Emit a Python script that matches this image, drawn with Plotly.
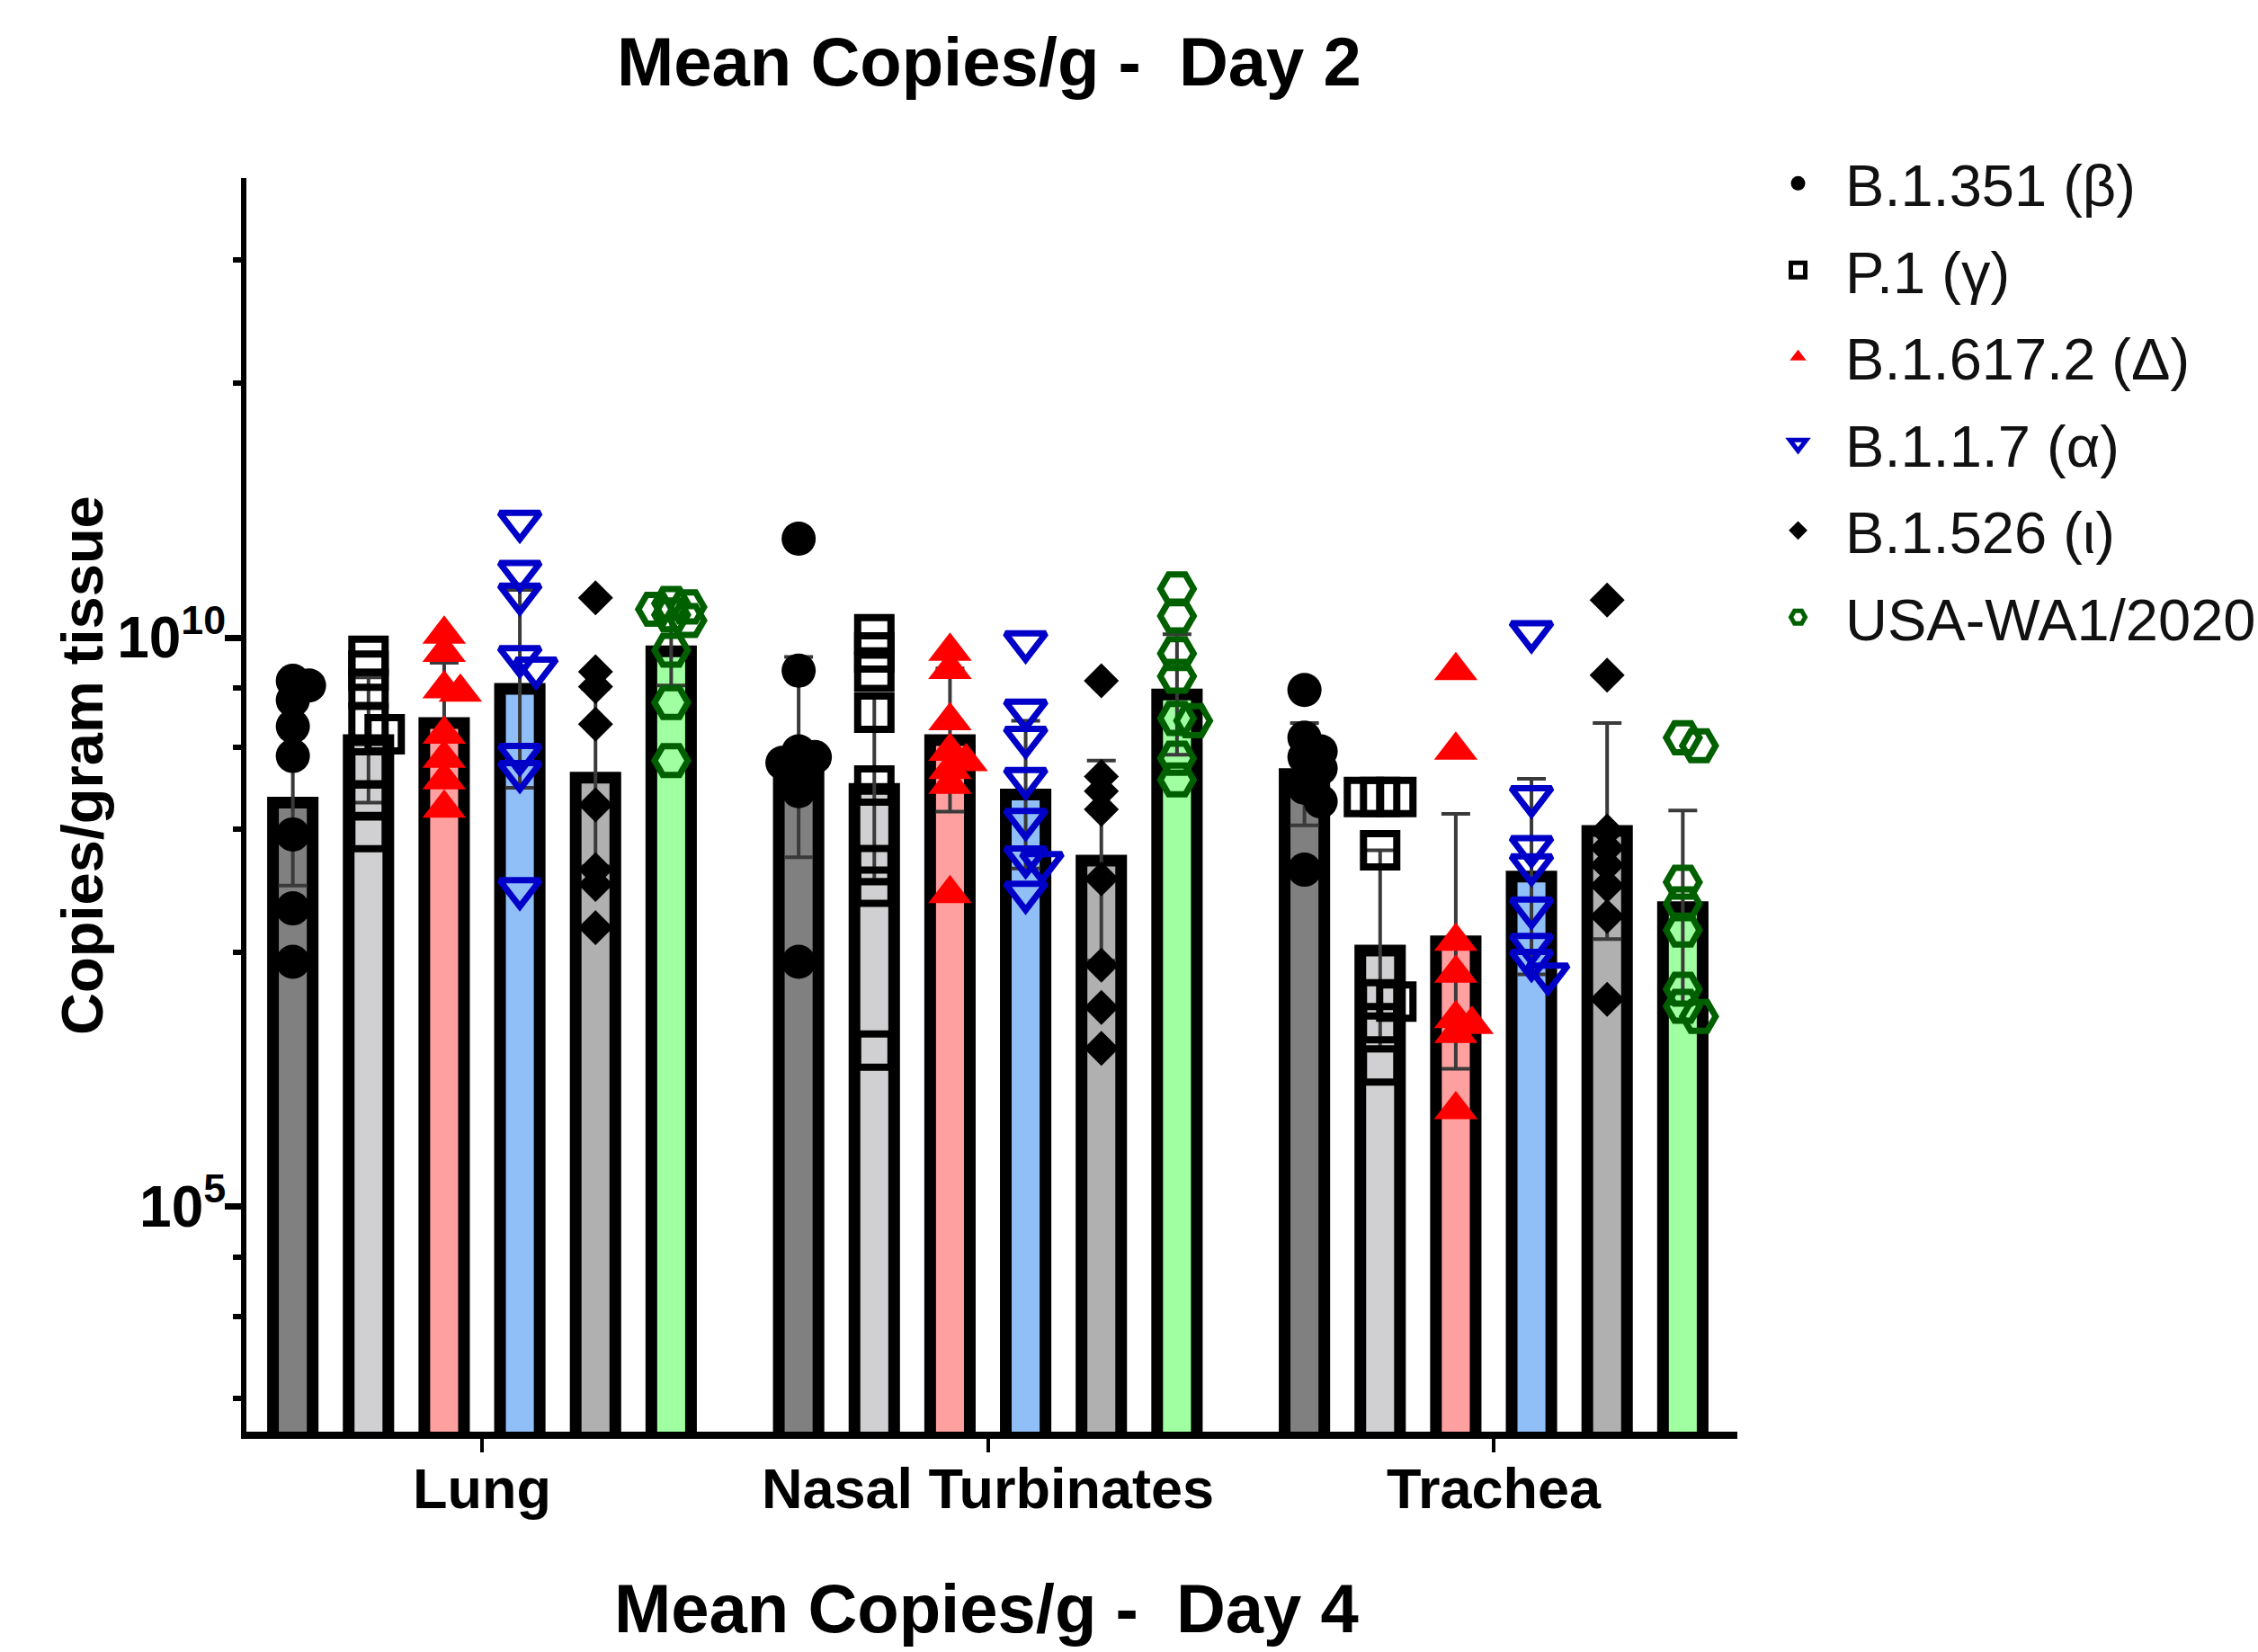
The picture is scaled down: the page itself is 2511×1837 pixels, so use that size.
import plotly.graph_objects as go

# ---------------- data (log10 copies/g) ----------------
tissues = ["Lung", "Nasal Turbinates", "Trachea"]
variants = ["B.1.351 (β)", "P.1 (γ)", "B.1.617.2 (Δ)", "B.1.1.7 (α)", "B.1.526 (ι)", "USA-WA1/2020"]

# bar heights (mean, log10) per tissue: Lung, Nasal Turbinates, Trachea
beta_mean = [8.55, 8.95, 8.80]
gamma_mean = [9.10, 8.67, 7.25]
delta_mean = [9.25, 9.10, 7.33]
alpha_mean = [9.55, 8.62, 7.90]
iota_mean = [8.77, 8.04, 8.30]
wa1_mean = [9.88, 9.50, 7.63]

# SD (log10 units)
beta_sd = [0.73, 0.88, 0.45]
gamma_sd = [0.55, 0.80, 0.88]
delta_sd = [0.53, 0.63, 1.12]
alpha_sd = [0.87, 0.65, 0.86]
iota_sd = [0.78, 0.88, 0.95]
wa1_sd = [0.30, 0.53, 0.85]

# individual animals (log10) per tissue
beta_pts = [
    [9.62, 9.58, 9.45, 9.22, 8.96, 8.27, 7.62, 7.15],
    [10.87, 9.71, 9.00, 8.95, 8.90, 8.80, 8.65, 7.15],
    [9.54, 9.12, 9.00, 8.95, 8.85, 8.68, 8.56, 7.96],
]
gamma_pts = [
    [9.84, 9.71, 9.55, 9.25, 9.15, 8.85, 8.57, 8.29],
    [10.03, 9.87, 9.70, 9.34, 8.70, 8.00, 7.81, 6.37],
    [8.60, 8.60, 8.60, 8.13, 6.82, 6.80, 6.61, 6.24],
]
delta_pts = [
    [10.03, 9.87, 9.55, 9.52, 9.15, 8.94, 8.75, 8.50],
    [9.88, 9.72, 9.27, 9.00, 8.91, 8.84, 8.71, 7.75],
    [9.71, 9.01, 7.33, 7.05, 6.65, 6.60, 6.52, 5.85],
]
alpha_pts = [
    [11.02, 10.58, 10.38, 9.83, 9.73, 8.97, 8.82, 7.79],
    [9.96, 9.36, 9.12, 8.76, 8.40, 8.07, 8.02, 7.76],
    [10.05, 8.60, 8.16, 8.00, 7.62, 7.30, 7.16, 7.04],
]
iota_pts = [
    [10.35, 9.70, 9.57, 9.24, 8.53, 7.96, 7.83, 7.45],
    [9.62, 8.78, 8.65, 8.49, 7.88, 7.12, 6.75, 6.39],
    [10.33, 9.67, 8.30, 8.15, 8.00, 7.82, 7.55, 6.82],
]
wa1_pts = [
    [10.30, 10.27, 10.25, 10.20, 10.15, 9.89, 9.43, 8.92],
    [10.43, 10.19, 9.86, 9.66, 9.29, 9.27, 8.94, 8.75],
    [9.12, 9.05, 7.85, 7.66, 7.43, 6.91, 6.76, 6.67],
]

major_tick_exps = [5, 10]
minor_tick_exps = [3.31, 4.035, 4.555, 7.235, 8.32, 9.035, 9.56, 12.235, 13.32]

# ---------------- styling ----------------
bar_colors = ["#808080", "#d0d0d2", "#ffa0a0", "#90bff8", "#b0b0b0", "#a0ffa0"]
mk_symbols = ["circle", "square-open", "triangle-up", "triangle-down-open", "diamond", "hexagon2-open"]
mk_colors = ["#000000", "#000000", "#ff0000", "#0000c8", "#000000", "#006000"]
mk_sizes = [38, 37, 42, 39, 30, 37]
mk_lw = [0, 8, 0, 7, 0, 7]

means = [beta_mean, gamma_mean, delta_mean, alpha_mean, iota_mean, wa1_mean]
sds = [beta_sd, gamma_sd, delta_sd, alpha_sd, iota_sd, wa1_sd]
pts = [beta_pts, gamma_pts, delta_pts, alpha_pts, iota_pts, wa1_pts]

W, H = 2511, 1837
L, R, T, B = 274, 579, 198, 245
X_RANGE = [-0.4658, 2.4818]
Y_RANGE = [3.02, 14.04]
BARGAP = 0.1024
BARGROUPGAP = 0.476
FONT = "Liberation Sans"

px_per_x = (W - L - R) / (X_RANGE[1] - X_RANGE[0])
px_per_dec = (H - T - B) / (Y_RANGE[1] - Y_RANGE[0])
n_var = len(variants)
slot = (1 - BARGAP) / n_var


def swarm_columns(vals, step_px=18, sep_px=16):
    """Deterministic small beeswarm: centre column, or one step left/right."""
    order = sorted(range(len(vals)), key=lambda i: -vals[i])
    placed = []
    cols = [0] * len(vals)
    for i in order:
        y = vals[i] * px_per_dec
        best_c, best_d = 0, -1.0
        for c in [0, 1, -1]:
            d = min([(((c - pc) * step_px) ** 2 + (y - py) ** 2) ** 0.5 for pc, py in placed] or [1e9])
            if d >= sep_px:
                best_c = c
                break
            if d > best_d:
                best_c, best_d = c, d
        cols[i] = best_c
        placed.append((best_c, y))
    return cols


fig = go.Figure()

# bars with SD error bars
for k in range(n_var):
    m = means[k]
    s = sds[k]
    fig.add_trace(go.Bar(
        x=list(range(len(tissues))),
        y=[10 ** v for v in m],
        name=variants[k],
        showlegend=False,
        marker=dict(color=bar_colors[k], line=dict(color="black", width=13)),
        error_y=dict(
            type="data", symmetric=False,
            array=[10 ** (v + d) - 10 ** v for v, d in zip(m, s)],
            arrayminus=[10 ** v - 10 ** (v - d) for v, d in zip(m, s)],
            color="#3a3a3a", thickness=4, width=16,
        ),
    ))

# individual points (beeswarm placement around each bar centre)
step_units = 18 / px_per_x
for k in range(n_var):
    xs, ys = [], []
    for g in range(len(tissues)):
        vals = pts[k][g]
        cols = swarm_columns(vals)
        centre = g - (1 - BARGAP) / 2 + (k + 0.5) * slot
        for v, c in zip(vals, cols):
            xs.append(centre + c * step_units)
            ys.append(10 ** v)
    fig.add_trace(go.Scatter(
        x=xs, y=ys, mode="markers", name=variants[k],
        legendgroup=variants[k],
        marker=dict(symbol=mk_symbols[k], size=mk_sizes[k], color=mk_colors[k],
                    line=dict(color=mk_colors[k], width=mk_lw[k])),
    ))

fig.update_layout(
    width=W, height=H,
    margin=dict(l=L, r=R, t=T, b=B, pad=0, autoexpand=False),
    paper_bgcolor="white", plot_bgcolor="white",
    barmode="group", bargap=BARGAP, bargroupgap=BARGROUPGAP,
    font=dict(family=FONT, color="black"),
    legend=dict(
        xref="container", yref="container",
        x=0.7754, xanchor="left", y=0.9156, yanchor="top",
        font=dict(family=FONT, size=65, color="#111111"),
        itemwidth=95, tracegroupgap=9, bgcolor="rgba(0,0,0,0)",
    ),
    annotations=[
        dict(text="Mean Copies/g -\u00a0 Day 2", xref="paper", yref="paper",
             x=0.4982, y=1.0929, xanchor="center", yanchor="middle", showarrow=False,
             font=dict(family=FONT, size=76, color="black", weight="bold")),
        dict(text="Mean Copies/g -\u00a0 Day 4", xref="paper", yref="paper",
             x=0.4961, y=-0.1413, xanchor="center", yanchor="middle", showarrow=False,
             font=dict(family=FONT, size=76, color="black", weight="bold")),
        dict(text="Copies/gram tissue", xref="paper", yref="paper",
             x=-0.1098, y=0.5316, xanchor="center", yanchor="middle", showarrow=False,
             textangle=-90,
             font=dict(family=FONT, size=65, color="black", weight="bold")),
    ],
)

fig.update_xaxes(
    range=X_RANGE, tickmode="array", tickvals=list(range(len(tissues))), ticktext=tissues,
    showgrid=False, zeroline=False, showline=True, linecolor="black", linewidth=8,
    ticks="outside", ticklen=15, tickwidth=4, tickcolor="black",
    ticklabelstandoff=-14,
    tickfont=dict(family=FONT, size=63, color="black", weight="bold"),
)
fig.update_yaxes(
    type="log", range=Y_RANGE,
    tickmode="array", tickvals=[10 ** e for e in major_tick_exps],
    ticktext=["10<sup>%d</sup>" % e for e in major_tick_exps],
    showgrid=False, zeroline=False, showline=True, linecolor="black", linewidth=6,
    ticks="outside", ticklen=18, tickwidth=7, tickcolor="black",
    ticklabelstandoff=-14,
    tickfont=dict(family=FONT, size=64, color="black", weight="bold"),
    minor=dict(tickmode="array", tickvals=[10 ** e for e in minor_tick_exps],
               ticks="outside", ticklen=9, tickwidth=6, tickcolor="black", showgrid=False),
)

fig.write_html("out.html")
